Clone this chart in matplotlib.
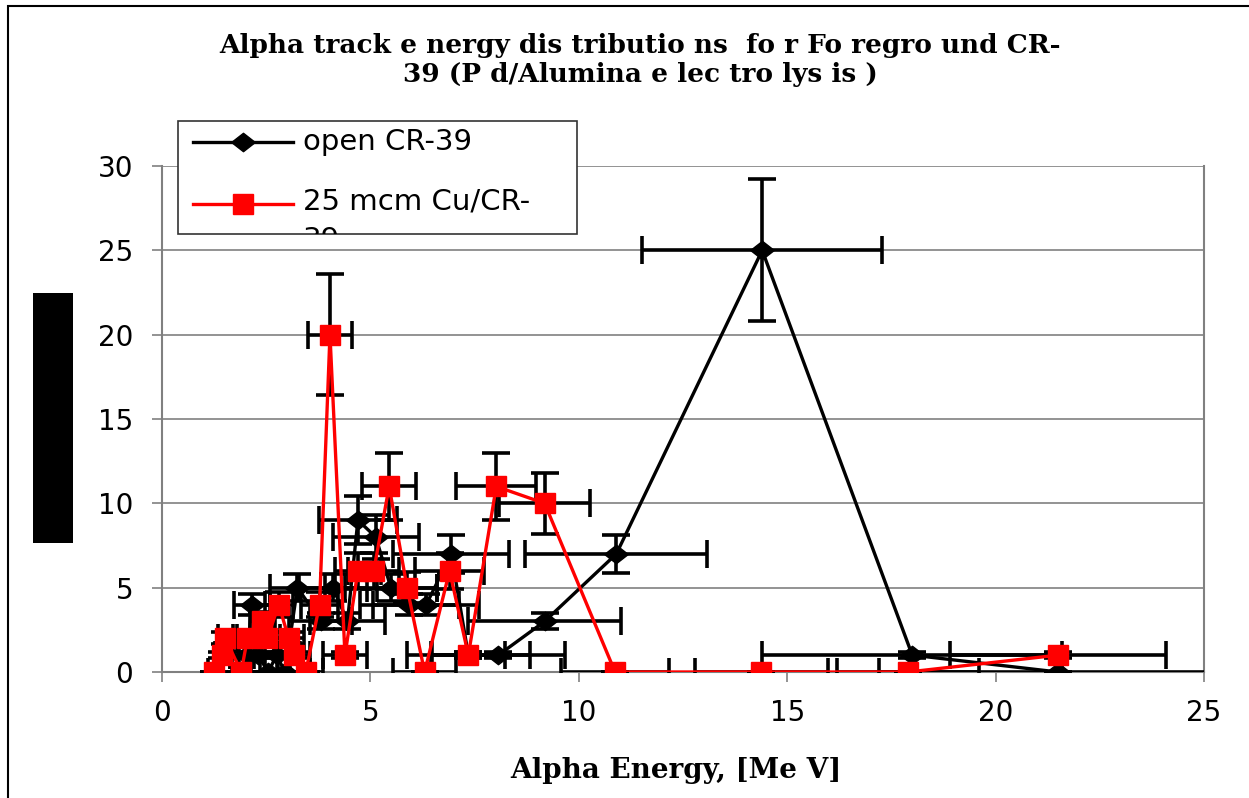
import numpy as np
from matplotlib import pyplot as plt
from matplotlib.patches import Rectangle
from matplotlib.lines import Line2D
from matplotlib.path import Path

# open CR-39 : energy [MeV], counts and error bars
OPEN_E      = [2.05, 2.15, 2.3, 2.55, 2.75, 2.95, 3.25, 3.81, 4.1, 4.45, 4.7, 5.13, 5.49,
               5.93, 6.34, 6.94, 7.35, 8.07, 9.18, 10.9, 14.4, 18.0, 21.5]
OPEN_N      = [1, 4, 1, 0, 1, 0, 5, 3, 5, 3, 9, 8, 5,
               4, 4, 7, 1, 1, 3, 7, 25, 1, 0]
OPEN_XERR   = [0.41, 0.43, 0.46, 0.51, 0.55, 0.59, 0.65, 0.76, 0.82, 0.89, 0.94, 1.03, 1.1,
               1.19, 1.27, 1.39, 1.47, 1.61, 1.84, 2.18, 2.88, 3.6, 4.3]
OPEN_YERR   = [0.16, 0.64, 0.16, 0.0, 0.16, 0.0, 0.8, 0.48, 0.8, 0.48, 1.44, 1.28, 0.8,
               0.64, 0.64, 1.12, 0.16, 0.16, 0.48, 1.12, 4.2, 0.16, 0.0]

# 25 mcm Cu / CR-39
CU_E        = [1.25, 1.45, 1.52, 1.9, 2.05, 2.41, 2.53, 2.8, 3.04, 3.16, 3.45, 3.78, 4.03, 4.39,
               4.7, 5.08, 5.45, 5.88, 6.3, 6.9, 7.35, 8.02, 9.18, 10.87, 14.38, 17.9, 21.5]
CU_N        = [0, 1, 2, 0, 2, 3, 2, 4, 2, 1, 0, 4, 20, 1,
               6, 6, 11, 5, 0, 6, 1, 11, 10, 0, 0, 0, 1]
CU_XERR     = [0.15, 0.17, 0.18, 0.23, 0.25, 0.29, 0.3, 0.34, 0.36, 0.38, 0.41, 0.45, 0.53, 0.53,
               0.56, 0.61, 0.65, 0.71, 0.76, 0.83, 0.88, 0.96, 1.1, 1.3, 1.6, 1.7, 2.6]
CU_YERR     = [0.0, 0.18, 0.36, 0.0, 0.36, 0.54, 0.36, 0.72, 0.36, 0.18, 0.0, 0.72, 3.6, 0.18,
               1.08, 1.08, 2.0, 0.9, 0.0, 1.08, 0.18, 2.0, 1.8, 0.0, 0.0, 0.0, 0.18]

LABELS      = ('open CR-39', '25 mcm Cu/CR-\n39')
TITLE       = 'Alpha track e nergy dis tributio ns  fo r Fo regro und CR-\n39 (P d/Alumina e lec tro lys is )'
XLABEL      = 'Alpha Energy, [Me V]'

W, H = 1249, 798
SANS  = 'DejaVu Sans'
SERIF = 'DejaVu Serif'

# flat diamond marker (a bit wider than tall)
DIAMOND = Path([(-1, 0), (0, 0.78), (1, 0), (0, -0.78), (-1, 0)],
               [Path.MOVETO, Path.LINETO, Path.LINETO, Path.LINETO, Path.CLOSEPOLY])


def px(x, y):
    # pixel position -> figure fraction
    return x / W, 1 - y / H


fig = plt.figure(figsize=(W / 100, H / 100), dpi=100)
ax = fig.add_axes([162 / W, 1 - 672 / H, (1204 - 162) / W, (672 - 166) / H])

ax.errorbar(OPEN_E, OPEN_N, xerr=OPEN_XERR, yerr=OPEN_YERR, fmt='-', marker=DIAMOND,
            color='black', ecolor='black', elinewidth=2.6, capsize=10, capthick=2.6,
            lw=2.4, markersize=17, zorder=3)
ax.errorbar(CU_E, CU_N, xerr=CU_XERR, yerr=CU_YERR, fmt='-s', color='#ff0000',
            mfc='#ff0000', mec='#ff0000', ecolor='black', elinewidth=2.6, capsize=10,
            capthick=2.6, lw=2.4, markersize=15, zorder=4)

ax.set_xlim(0, 25)
ax.set_ylim(0, 30)
ax.set_xticks(np.arange(0, 26, 5))
ax.set_yticks(np.arange(0, 31, 5))
ax.yaxis.grid(True, color='#808080', lw=1.2)
ax.set_axisbelow(True)
for side in ('left', 'right', 'bottom', 'top'):
    ax.spines[side].set_color('#808080')
    ax.spines[side].set_linewidth(1.5)
ax.spines['top'].set_visible(False)
ax.tick_params(direction='out', length=7.2, width=1.2, color='#808080', labelsize=20)
ax.tick_params(axis='y', pad=13.5)
ax.tick_params(axis='x', pad=12)
for lab in ax.get_xticklabels() + ax.get_yticklabels():
    lab.set_family(SANS)

# title and axis label
fig.text(*px(640, 60), TITLE, ha='center', va='center', fontsize=19, fontweight='bold',
         family=SERIF, linespacing=1.2)
fig.text(*px(676, 770), XLABEL, ha='center', va='center', fontsize=20, fontweight='bold',
         family=SERIF)

# black block on the left, outer frame
fig.patches.append(Rectangle(px(33, 543), 40 / W, 250 / H, transform=fig.transFigure,
                             facecolor='black', edgecolor='none'))
fig.patches.append(Rectangle(px(8, 830), (1260 - 8) / W, (830 - 6) / H,
                             transform=fig.transFigure, facecolor='none',
                             edgecolor='black', lw=1.5))

# legend box
box = Rectangle(px(178, 234), (577 - 178) / W, (234 - 121) / H, transform=fig.transFigure,
                facecolor='white', edgecolor='#333333', lw=1.2, zorder=10)
fig.patches.append(box)
fig.lines.append(Line2D([193 / W, 293 / W], [1 - 142 / H] * 2, transform=fig.transFigure,
                        color='black', lw=2.4, zorder=11))
fig.lines.append(Line2D([243 / W], [1 - 142 / H], transform=fig.transFigure,
                        color='black', marker=DIAMOND, markersize=17, lw=0, zorder=11))
fig.lines.append(Line2D([193 / W, 293 / W], [1 - 204 / H] * 2, transform=fig.transFigure,
                        color='#ff0000', lw=2.4, zorder=11))
fig.lines.append(Line2D([243 / W], [1 - 204 / H], transform=fig.transFigure,
                        color='#ff0000', marker='s', markersize=15, lw=0, zorder=11))
fig.text(*px(303, 142), LABELS[0], va='center', fontsize=21, family=SANS, zorder=12)
t = fig.text(*px(303, 188), LABELS[1], va='top', fontsize=21, family=SANS,
             linespacing=1.45, zorder=12)
t.set_clip_path(box)

plt.savefig('out.png', dpi=100)
